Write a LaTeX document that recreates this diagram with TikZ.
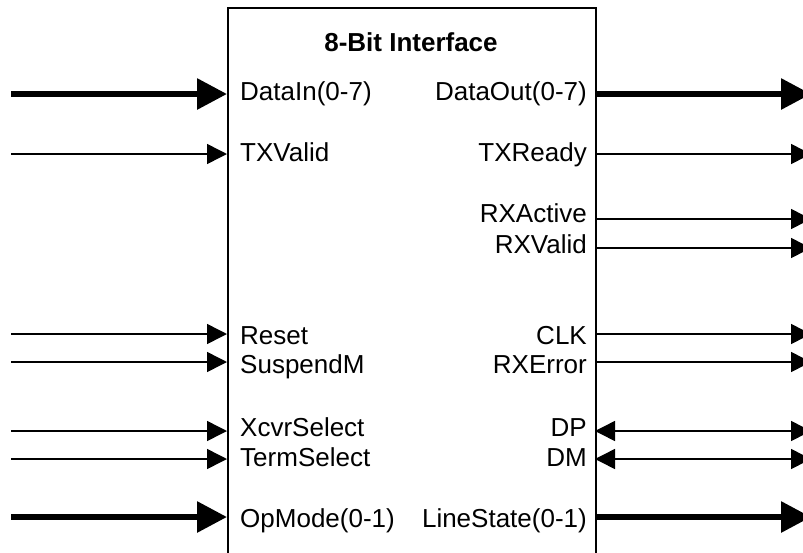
\documentclass[tikz,border=0pt]{standalone}
\usepackage{fontspec}
\setmainfont{Liberation Sans}
\usetikzlibrary{arrows.meta}
\begin{document}
\begin{tikzpicture}[x=1pt,y=-1pt,
  sig/.style={line width=1.5pt,-{Triangle[length=20pt,width=20pt]}},
  bus/.style={line width=6pt,-{Triangle[length=30pt,width=30pt]}},
  bidir/.style={line width=1.5pt,{Triangle[length=20pt,width=20pt]}-{Triangle[length=20pt,width=20pt]}},
  pin/.style={inner sep=0pt,font=\fontsize{26}{30}\selectfont},
  pinL/.style={pin,anchor=base west},
  pinR/.style={pin,anchor=base east}]
\useasboundingbox (0,0) rectangle (803,552);
\clip (0,0) rectangle (803,552);
% block:
\node[draw,line width=2pt,anchor=north west,minimum width=368pt,minimum height=560pt,inner sep=0pt] (ifc) at (227,7) {};
\node[pin,font=\fontsize{26}{30}\selectfont\bfseries,anchor=base] (title) at (411,51) {8-Bit Interface};
% pin labels, left side:
\node[pinL] (dinL) at (240,100) {DataIn(0-7)};
\node[pinL] (txvL) at (240,161) {TXValid};
\node[pinL] (rstL) at (240,344) {Reset};
\node[pinL] (suspL) at (240,373) {SuspendM};
\node[pinL] (xcvrL) at (240,436) {XcvrSelect};
\node[pinL] (termL) at (240,466) {TermSelect};
\node[pinL] (opmL) at (240,527) {OpMode(0-1)};
% pin labels, right side:
\node[pinR] (doutL) at (587,100) {DataOut(0-7)};
\node[pinR] (txrL) at (587,161) {TXReady};
\node[pinR] (rxaL) at (587,222) {RXActive};
\node[pinR] (rxvL) at (587,253) {RXValid};
\node[pinR] (clkL) at (587,344) {CLK};
\node[pinR] (rxeL) at (587,373) {RXError};
\node[pinR] (dpL) at (587,436) {DP};
\node[pinR] (dmL) at (587,466) {DM};
\node[pinR] (lsL) at (587,527) {LineState(0-1)};
% ports on the block edges:
\coordinate (dinP) at (227,94);
\coordinate (txvP) at (227,154);
\coordinate (rstP) at (227,334);
\coordinate (suspP) at (227,362);
\coordinate (xcvrP) at (227,431);
\coordinate (termP) at (227,459);
\coordinate (opmP) at (227,517);
\coordinate (doutP) at (595,94);
\coordinate (txrP) at (595,154);
\coordinate (rxaP) at (595,219);
\coordinate (rxvP) at (595,248);
\coordinate (clkP) at (595,334);
\coordinate (rxeP) at (595,362);
\coordinate (dpP) at (595,431);
\coordinate (dmP) at (595,459);
\coordinate (lsP) at (595,517);
% free ends:
\coordinate (dinS) at (11,94);
\coordinate (txvS) at (11,154);
\coordinate (rstS) at (11,334);
\coordinate (suspS) at (11,362);
\coordinate (xcvrS) at (11,431);
\coordinate (termS) at (11,459);
\coordinate (opmS) at (11,517);
\coordinate (doutE) at (811,94);
\coordinate (txrE) at (811,154);
\coordinate (rxaE) at (811,219);
\coordinate (rxvE) at (811,248);
\coordinate (clkE) at (811,334);
\coordinate (rxeE) at (811,362);
\coordinate (dpE) at (811,431);
\coordinate (dmE) at (811,459);
\coordinate (lsE) at (811,517);
% inputs:
\draw[bus] (dinS) -- (dinP);
\draw[sig] (txvS) -- (txvP);
\draw[sig] (rstS) -- (rstP);
\draw[sig] (suspS) -- (suspP);
\draw[sig] (xcvrS) -- (xcvrP);
\draw[sig] (termS) -- (termP);
\draw[bus] (opmS) -- (opmP);
% outputs:
\draw[bus] (doutP) -- (doutE);
\draw[sig] (txrP) -- (txrE);
\draw[sig] (rxaP) -- (rxaE);
\draw[sig] (rxvP) -- (rxvE);
\draw[sig] (clkP) -- (clkE);
\draw[sig] (rxeP) -- (rxeE);
\draw[bidir] (dpP) -- (dpE);
\draw[bidir] (dmP) -- (dmE);
\draw[bus] (lsP) -- (lsE);
\end{tikzpicture}
\end{document}
